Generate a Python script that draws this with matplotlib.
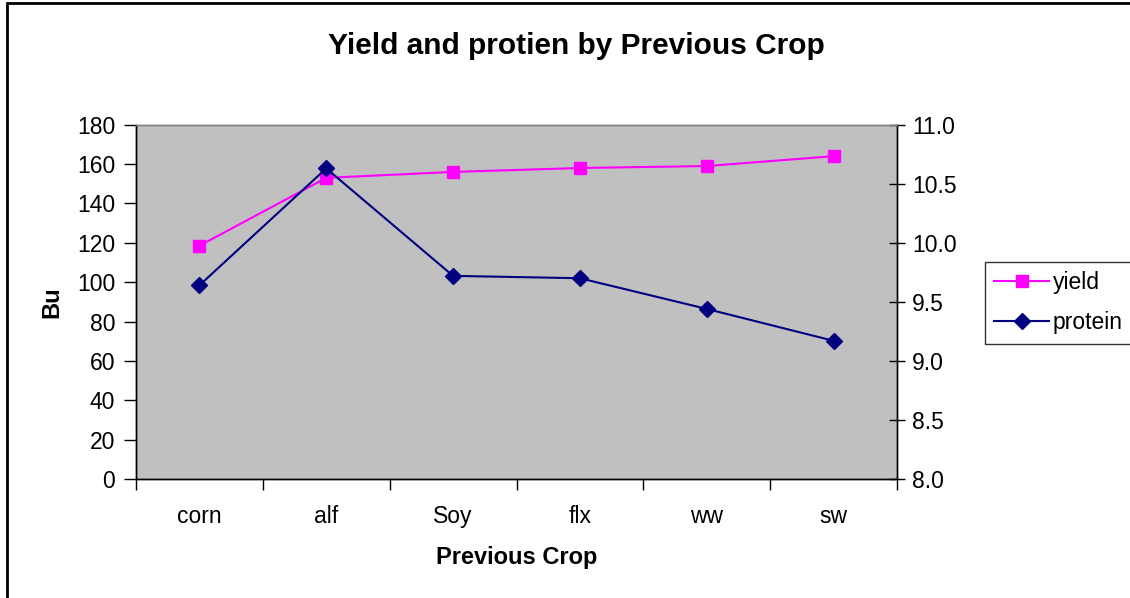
import matplotlib.pyplot as plt
from matplotlib.patches import Rectangle

plt.rcParams['font.family'] = ['Liberation Sans', 'DejaVu Sans']

crops = ['corn', 'alf', 'Soy', 'flx', 'ww', 'sw']
yield_bu = [118.5, 153, 156, 158, 159, 164]
protein = [9.64, 10.63, 9.72, 9.70, 9.44, 9.17]

fig = plt.figure(figsize=(11.3, 5.98), dpi=100)
ax = fig.add_axes([136 / 1130, 1 - 479 / 598, (897 - 136) / 1130, (479 - 124.7) / 598])
ax.set_facecolor('#C0C0C0')

x = list(range(len(crops)))
l1, = ax.plot(x, yield_bu, color='#FF00FF', marker='s', markersize=8, lw=1.5, label='yield')
ax.set_ylim(0, 180)
ax.set_yticks(range(0, 181, 20))
ax.set_xlim(-0.5, len(crops) - 0.5)
ax.set_xticks([i - 0.5 for i in range(len(crops) + 1)])
ax.set_xticklabels([])
ax.set_xticks(x, minor=True)
ax.set_xticklabels(crops, minor=True)
ax.tick_params(axis='x', which='major', direction='out', length=8, width=1)
ax.tick_params(axis='x', which='minor', length=0, pad=19, labelsize=16.5)
ax.tick_params(axis='y', direction='out', length=9, width=1, pad=6, labelsize=16.5)
ax.set_ylabel('Bu', fontsize=17, fontweight='bold', labelpad=10)
ax.set_xlabel('Previous Crop', fontsize=17, fontweight='bold', labelpad=13)

ax2 = ax.twinx()
l2, = ax2.plot(x, protein, color='#000080', marker='D', markersize=8, lw=1.5, label='protein')
ax2.set_ylim(8.0, 11.0)
ax2.set_yticks([8.0, 8.5, 9.0, 9.5, 10.0, 10.5, 11.0])
ax2.set_yticklabels(['%.1f' % v for v in ax2.get_yticks()])
ax2.tick_params(axis='y', direction='inout', length=12, width=1, pad=5, labelsize=16.5)

for a in (ax, ax2):
    for s in ('left', 'bottom', 'right'):
        a.spines[s].set_color('black')
        a.spines[s].set_linewidth(1)
    a.spines['top'].set_color('#808080')
    a.spines['top'].set_linewidth(1)

fig.text(576 / 1130, 1 - 46 / 598, 'Yield and protien by Previous Crop', ha='center', va='center',
         fontsize=21.5, fontweight='bold')

leg = fig.legend(handles=[l1, l2], loc='upper left', bbox_to_anchor=(985 / 1130, 1 - 262 / 598),
                 frameon=True, fancybox=False, fontsize=16.5, handlelength=2.4, handletextpad=0.15,
                 borderpad=0.4, borderaxespad=0, labelspacing=0.75)
leg.get_frame().set_edgecolor('black')
leg.get_frame().set_linewidth(1)

fig.patches.append(Rectangle((7 / 1130, -0.1), 1.2, 1.1 - 3 / 598, transform=fig.transFigure,
                             fill=False, edgecolor='black', lw=2))

fig.savefig('out.png', dpi=100)
